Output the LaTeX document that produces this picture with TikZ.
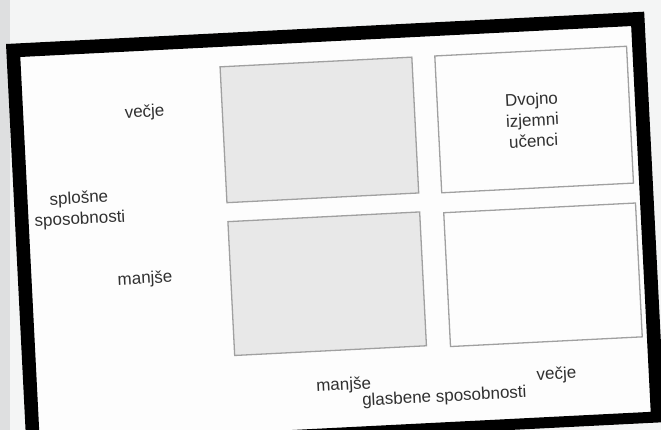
\documentclass[tikz,border=0pt]{standalone}
\usepackage{fontspec}
\setmainfont{Liberation Sans}
\definecolor{bg}{HTML}{F4F5F5}
\definecolor{strip}{HTML}{DEDFE0}
\definecolor{paper}{HTML}{FDFDFD}
\definecolor{cellgray}{HTML}{E8E8E8}
\definecolor{cellline}{HTML}{A0A0A0}
\definecolor{txt}{HTML}{303030}
\begin{document}
\begin{tikzpicture}[x=1pt,y=-1pt,
  lbl/.style={text=txt, font=\fontsize{17}{20.8}\selectfont, inner sep=0pt, align=center},
  cell/.style={draw=cellline, line width=1.3pt, anchor=north west, inner sep=0pt}]
\useasboundingbox (0,0) rectangle (661,430);
\clip (0,0) rectangle (661,430);
\fill[bg] (0,0) rectangle (661,430);
\fill[strip] (0,0) rectangle (10,430);
\begin{scope}[shift={(6,44)}, rotate=2.9, transform shape]
  \fill[paper] (13.6,13.7) rectangle (625.3,400);
  \fill[black, even odd rule] (0,0) rectangle (639,411) (13.6,13.7) rectangle (625.3,400);
  \node[cell, fill=cellgray, minimum width=192pt, minimum height=136pt] (c1) at (212,33) {};
  \node[cell, fill=paper, minimum width=192pt, minimum height=137pt] (c2) at (427,33) {};
  \node[cell, fill=cellgray, minimum width=192pt, minimum height=134pt] (c3) at (212,188) {};
  \node[cell, fill=paper, minimum width=192pt, minimum height=134pt] (c4) at (428,190) {};
  \node[lbl] (vl) at (135,75.6) {večje};
  \node[lbl] (sp) at (65,169) {splošne\\sposobnosti};
  \node[lbl] (ml) at (127,242) {manjše};
  \node[lbl] (dv) at (522,102.5) {Dvojno\\izjemni\\učenci};
  \node[lbl] (mb) at (320,358.4) {manjše};
  \node[lbl] (vb) at (533,358.4) {večje};
  \node[lbl] (gs) at (420,375) {glasbene sposobnosti};
\end{scope}
\end{tikzpicture}
\end{document}
